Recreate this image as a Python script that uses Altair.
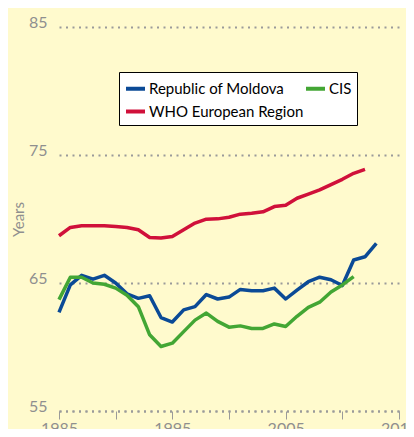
import altair as alt
import pandas as pd

years_moldova = list(range(1985, 2014))
moldova = [62.7, 64.85, 65.6, 65.3, 65.6, 65.0, 64.15, 63.8, 64.0, 62.3, 61.95, 62.9, 63.15,
           64.1, 63.75, 63.9, 64.5, 64.4, 64.4, 64.6, 63.75, 64.45, 65.1, 65.45, 65.25, 64.8,
           66.8, 67.05, 68.1]

years_cis = list(range(1985, 2012))
cis = [63.7, 65.45, 65.45, 65.0, 64.9, 64.6, 64.05, 63.15, 60.95, 60.04, 60.3, 61.2, 62.1,
       62.65, 62.0, 61.55, 61.65, 61.45, 61.45, 61.8, 61.6, 62.4, 63.1, 63.5, 64.3, 64.85, 65.5]

years_who = list(range(1985, 2013))
who = [68.69, 69.34, 69.47, 69.47, 69.47, 69.42, 69.34, 69.16, 68.56, 68.51, 68.64, 69.16,
       69.68, 69.99, 70.01, 70.14, 70.38, 70.45, 70.56, 70.97, 71.08, 71.62, 71.94, 72.27,
       72.69, 73.10, 73.57, 73.88]

series_names = ["Republic of Moldova", "CIS", "WHO European Region"]
series_colors = ["#0B4A96", "#43A634", "#D0103A"]

rows = []
for y, v in zip(years_moldova, moldova):
    rows.append({"year": y, "value": v, "series": series_names[0]})
for y, v in zip(years_cis, cis):
    rows.append({"year": y, "value": v, "series": series_names[1]})
for y, v in zip(years_who, who):
    rows.append({"year": y, "value": v, "series": series_names[2]})
df = pd.DataFrame(rows)

font = "Lato"
gray = "#8f8f8f"

chart = alt.Chart(df).mark_line(strokeWidth=3.5, strokeJoin="round").encode(
    x=alt.X("year:Q",
            scale=alt.Scale(domain=[1985, 2015], nice=False, zero=False),
            axis=alt.Axis(title=None, values=list(range(1985, 2016, 5)), format="d",
                          labelExpr="datum.value % 10 == 5 ? datum.label : ''",
                          grid=False, domainColor="#9a9a9a", domainDash=[2, 4.5], domainWidth=2,
                          tickColor="#9a9a9a", tickSize=8, tickWidth=1,
                          labelColor=gray, labelFontSize=16, labelFont=font,
                          labelPadding=1, labelFlush=False)),
    y=alt.Y("value:Q",
            scale=alt.Scale(domain=[55, 85], nice=False, zero=False),
            axis=alt.Axis(title="Years", values=[55, 65, 75, 85], domain=False, ticks=False,
                          grid=True, gridColor="#9a9a9a", gridDash=[2, 4.5], gridWidth=2,
                          labelColor=gray, labelFontSize=16, labelFont=font,
                          labelBaseline="alphabetic", labelPadding=12,
                          titleColor=gray, titleFontSize=15, titleFont=font,
                          titleFontWeight="normal", titleX=-41, titleY=192,
                          titleAlign="center", titleBaseline="middle")),
    color=alt.Color("series:N",
                    scale=alt.Scale(domain=series_names, range=series_colors),
                    legend=alt.Legend(title=None, orient="none", legendX=60, legendY=45,
                                      columns=2, direction="horizontal",
                                      fillColor="white", strokeColor="black",
                                      padding=5, symbolType="stroke", symbolStrokeWidth=4,
                                      symbolSize=361, labelFont=font, labelFontSize=15,
                                      labelColor="black", labelOffset=2, labelLimit=400,
                                      columnPadding=-13, rowPadding=3)),
    order="year:Q"
).properties(
    width=340, height=384,
    autosize=alt.AutoSizeParams(type="none"),
    padding={"left": 51, "top": 19, "right": 7, "bottom": 18},
    background="#FFFACD"
).configure_view(stroke=None)

chart.save("out.html", embed_options={"renderer": "svg", "actions": False})
